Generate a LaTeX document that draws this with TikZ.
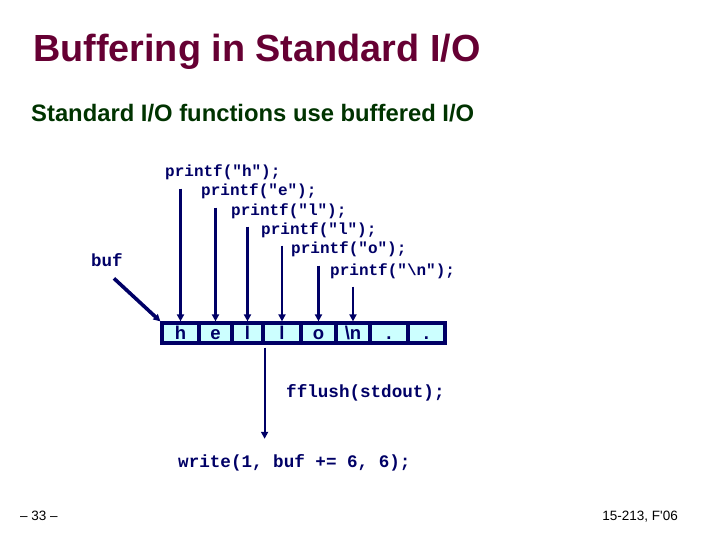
\documentclass[tikz,border=0pt]{standalone}
\usepackage{fontspec}
\setmainfont{Liberation Sans}
\setmonofont{Liberation Mono}
\usetikzlibrary{arrows.meta,positioning,calc}
\definecolor{titlec}{RGB}{102,0,51}
\definecolor{subc}{RGB}{0,51,0}
\definecolor{navyc}{RGB}{0,0,102}
\definecolor{bufc}{RGB}{204,255,255}

\begin{document}
\begin{tikzpicture}[
  x=1pt, y=-1pt,
  >={Triangle[length=7pt,width=7pt]},
  code/.style={font=\fontsize{16}{18}\selectfont\ttfamily\bfseries, text=navyc, inner sep=3pt},
  bigcode/.style={font=\fontsize{17.6}{20}\selectfont\ttfamily\bfseries, text=navyc, inner sep=3pt},
  cell/.style={draw=navyc, line width=3.2pt, fill=bufc, text=navyc, minimum height=20pt,
               inner sep=0pt, text height=13pt, text depth=0pt, font=\fontsize{18.5}{19}\selectfont\bfseries},
  arr/.style={->, draw=navyc, line width=2.2pt},
  bufarr/.style={->, draw=navyc, line width=3.6pt},
  foot/.style={font=\fontsize{13.5}{15}\selectfont, inner sep=0pt},
]
\useasboundingbox (0,0) rectangle (720,540);
% heading
\node[anchor=base west, inner sep=0pt, text=titlec, font=\fontsize{37.8}{40}\selectfont\bfseries] (title) at (33,62) {Buffering in Standard I/O};
\node[anchor=base west, inner sep=0pt, text=subc, font=\fontsize{23.8}{26}\selectfont\bfseries] (sub) at (31,122) {Standard I/O functions use buffered I/O};
% the buffer
\foreach \i/\l/\r/\t in {1/162/199/h, 2/199/232/e, 3/232/263/l, 4/263/301/l,
                          5/301/336/o, 6/336/370/\textbackslash n, 7/370/408/., 8/408/445/.}
  \node[cell, minimum width={\r pt-\l pt}] (c\i) at ({(\l+\r)/2},333) {\t};
% printf calls, one per cell
\foreach \n/\x/\y/\s in {1/162/177/h, 2/198/196/e, 3/228/215/l, 4/258/234/l,
                         5/288/254/o, 6/327/275/\textbackslash n}
  \node[code, anchor=base west] (p\n) at (\x,\y) {printf("\s");};
\foreach \n in {1,...,6} \draw[arr, shorten <=5pt] (p\n.south -| c\n.north) -- (c\n.north);
% buf pointer
\node[code, font=\fontsize{17.5}{19}\selectfont\ttfamily\bfseries, anchor=base west] (buf) at (88,266) {buf};
\draw[bufarr] ($(buf.south)+(7,9)$) -- (c1.north west);
% flush
\node[bigcode, anchor=base west] (ffl) at (283,397) {fflush(stdout);};
\node[bigcode, anchor=base west] (wr) at (175,467) {write(1, buf += 6, 6);};
\draw[arr, shorten <=3pt, shorten >=12pt] (c3.south east) -- (c3.south east |- wr.north);
% footer
\node[foot, anchor=base west] (pg) at (20,520) {– 33 –};
\node[foot, anchor=base east] (course) at (678,520) {15-213, F\textquotesingle 06};
\end{tikzpicture}
\end{document}
